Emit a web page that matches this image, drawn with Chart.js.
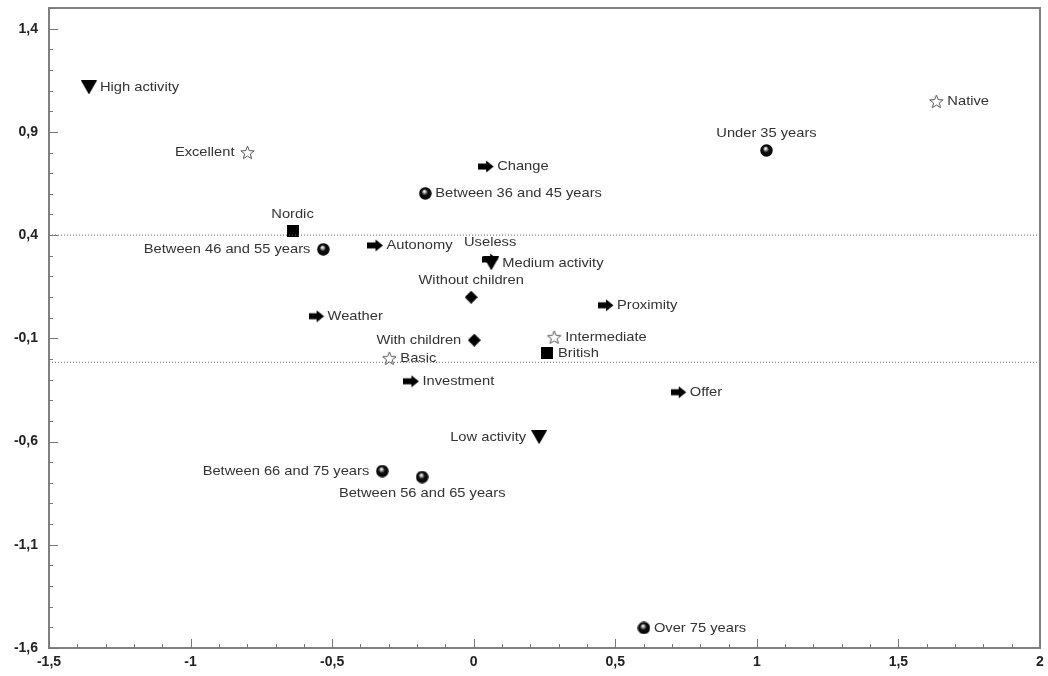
<!DOCTYPE html>
<html>
<head>
<meta charset="utf-8">
<script src="https://cdn.jsdelivr.net/npm/chart.js@4.4.1/dist/chart.umd.min.js"></script>
<style>
  html, body { margin: 0; background: #fff; }
</style>
</head>
<body>
<canvas id="c" width="1048" height="676"></canvas>
<script>
// data
const names = ["High activity", "Excellent", "Native", "Under 35 years", "Change",
  "Between 36 and 45 years", "Nordic", "Between 46 and 55 years", "Autonomy", "Useless",
  "Medium activity", "Without children", "Proximity", "Weather", "With children",
  "Intermediate", "British", "Basic", "Investment", "Offer", "Low activity",
  "Between 66 and 75 years", "Between 56 and 65 years", "Over 75 years"];
const xVals = [-1.359, -0.799, 1.634, 1.034, 0.044, -0.171, -0.640, -0.531, -0.347, 0.058,
  0.062, -0.009, 0.467, -0.555, 0.002, 0.284, 0.259, -0.298, -0.220, 0.724, 0.231,
  -0.323, -0.182, 0.601];
const yVals = [1.115, 0.800, 1.047, 0.810, 0.732, 0.602, 0.418, 0.331, 0.350, 0.282,
  0.263, 0.099, 0.060, 0.007, -0.109, -0.095, -0.172, -0.197, -0.308, -0.361, -0.579,
  -0.743, -0.772, -1.503];
const kinds = ["tri", "star", "star", "ball", "arrow", "ball", "square", "ball", "arrow", "arrow",
  "tri", "diamond", "arrow", "arrow", "diamond", "star", "square", "star", "arrow", "arrow", "tri",
  "ball", "ball", "ball"];
const xTicks = [-1.5, -1, -0.5, 0, 0.5, 1, 1.5, 2];
const yTicks = [-1.6, -1.1, -0.6, -0.1, 0.4, 0.9, 1.4];
const refLines = [0.4, -0.216];

// where each label sits relative to its marker
const labelSide = {
  "Excellent": "left", "Between 46 and 55 years": "left", "With children": "left",
  "Low activity": "left", "Between 66 and 75 years": "left",
  "Under 35 years": "above", "Nordic": "above", "Useless": "above", "Without children": "above",
  "Between 56 and 65 years": "below"
};

function mk(w, h) { const c = document.createElement("canvas"); c.width = w; c.height = h; return c; }

function ballIcon(d) {
  const c = mk(d, d), g = c.getContext("2d");
  const gr = g.createRadialGradient(d * 0.42, d * 0.33, 0.3, d / 2, d / 2, d / 2);
  gr.addColorStop(0, "#fff"); gr.addColorStop(0.22, "#999"); gr.addColorStop(0.45, "#111"); gr.addColorStop(1, "#000");
  g.fillStyle = gr; g.beginPath(); g.arc(d / 2, d / 2, d / 2 - 0.3, 0, Math.PI * 2); g.fill();
  return c;
}
function arrowIcon() {
  const c = mk(16, 13), g = c.getContext("2d");
  g.fillStyle = "#000"; g.beginPath();
  g.moveTo(0, 3.5); g.lineTo(8, 3.5); g.lineTo(8, 0.5); g.lineTo(15.5, 6.5); g.lineTo(8, 12.5); g.lineTo(8, 9.5); g.lineTo(0, 9.5);
  g.closePath(); g.fill();
  return c;
}
function triIcon() {
  const c = mk(16, 14), g = c.getContext("2d");
  g.fillStyle = "#000"; g.beginPath(); g.moveTo(0, 0); g.lineTo(16, 0); g.lineTo(8, 14); g.closePath(); g.fill();
  return c;
}
function squareIcon() {
  const c = mk(12, 12), g = c.getContext("2d");
  g.fillStyle = "#000"; g.fillRect(0, 0, 12, 12);
  return c;
}
function diamondIcon() {
  const c = mk(13, 13), g = c.getContext("2d");
  g.fillStyle = "#000"; g.beginPath(); g.moveTo(6.5, 0); g.lineTo(13, 6.5); g.lineTo(6.5, 13); g.lineTo(0, 6.5); g.closePath(); g.fill();
  return c;
}
function starIcon() {
  const c = mk(15, 15), g = c.getContext("2d");
  g.strokeStyle = "#555"; g.lineWidth = 1; g.fillStyle = "#fff"; g.beginPath();
  for (let i = 0; i < 10; i++) {
    const r = i % 2 ? 3 : 7, a = -Math.PI / 2 + i * Math.PI / 5;
    const px = 7.5 + r * Math.cos(a), py = 8 + r * Math.sin(a);
    i ? g.lineTo(px, py) : g.moveTo(px, py);
  }
  g.closePath(); g.fill(); g.stroke();
  return c;
}
const icons = { ball: ballIcon(13), arrow: arrowIcon(), tri: triIcon(), square: squareIcon(), diamond: diamondIcon(), star: starIcon() };

const fmt = v => String(Math.round(v * 10) / 10).replace(".", ",");

const frameAndTicks = {
  id: "frameAndTicks",
  afterDraw(chart) {
    const { ctx, chartArea: a, scales: { x, y } } = chart;
    ctx.save();
    ctx.strokeStyle = "#808080"; ctx.lineWidth = 2;
    ctx.strokeRect(a.left, a.top, a.right - a.left, a.bottom - a.top);
    ctx.lineWidth = 1; ctx.strokeStyle = "#777";
    ctx.beginPath();
    for (let i = -15; i <= 20; i++) {
      const v = i / 10, px = Math.round(x.getPixelForValue(v)) + 0.5;
      const len = xTicks.some(t => Math.abs(t - v) < 1e-6) ? 9 : 4;
      ctx.moveTo(px, a.bottom); ctx.lineTo(px, a.bottom - len);
    }
    for (let i = -16; i <= 15; i++) {
      const v = i / 10, py = Math.round(y.getPixelForValue(v)) + 0.5;
      const len = yTicks.some(t => Math.abs(t - v) < 1e-6) ? 9 : 4;
      ctx.moveTo(a.left, py); ctx.lineTo(a.left + len, py);
    }
    ctx.stroke();
    ctx.restore();
  }
};

const pointLabels = {
  id: "pointLabels",
  afterDatasetsDraw(chart) {
    const { ctx } = chart;
    const meta = chart.getDatasetMeta(refLines.length);
    ctx.save();
    ctx.font = "13px 'Liberation Sans', Arial, sans-serif";
    ctx.fillStyle = "#333";
    ctx.textBaseline = "middle";
    const sx = 1.13;
    meta.data.forEach((pt, i) => {
      const name = names[i], side = labelSide[name] || "right";
      const w = ctx.measureText(name).width * sx;
      let tx, ty = pt.y;
      if (side === "right") tx = pt.x + (kinds[i] === "ball" ? 10 : 11);
      else if (side === "left") tx = pt.x - 13 - w;
      else if (side === "above") { tx = pt.x - w / 2; ty = pt.y - 17; }
      else { tx = pt.x - w / 2; ty = pt.y + 16; }
      ctx.save();
      ctx.translate(tx, ty); ctx.scale(sx, 1);
      ctx.fillText(name, 0, 0);
      ctx.restore();
    });
    ctx.restore();
  }
};

const refSets = refLines.map(v => ({
  type: "line",
  data: [{ x: -1.5, y: v }, { x: 2, y: v }],
  borderColor: "#666", borderWidth: 1, borderDash: [1, 2],
  pointRadius: 0, fill: false
}));

const tickFont = { family: "'Liberation Sans', Arial", size: 14, weight: "bold" };

new Chart(document.getElementById("c"), {
  type: "scatter",
  data: {
    datasets: [...refSets, {
      data: xVals.map((x, i) => ({ x, y: yVals[i] })),
      pointStyle: ctx => icons[kinds[ctx.dataIndex]],
      pointRadius: 7, pointHoverRadius: 7
    }]
  },
  options: {
    responsive: false, devicePixelRatio: 1, animation: false,
    layout: { padding: { top: 7, right: 6, left: 0, bottom: 0 } },
    plugins: { legend: { display: false }, tooltip: { enabled: false } },
    scales: {
      x: {
        type: "linear", min: -1.5, max: 2,
        afterBuildTicks: s => { s.ticks = xTicks.map(value => ({ value })); },
        afterFit: s => { s.height = 28; s.paddingLeft = 0; s.paddingRight = 0; },
        grid: { display: false, drawTicks: false }, border: { display: false },
        ticks: { callback: fmt, padding: 6, color: "#222", font: tickFont, maxRotation: 0 }
      },
      y: {
        type: "linear", min: -1.6, max: 1.5,
        afterBuildTicks: s => { s.ticks = yTicks.map(value => ({ value })); },
        afterFit: s => { s.width = 49; s.paddingTop = 0; s.paddingBottom = 0; },
        grid: { display: false, drawTicks: false }, border: { display: false },
        ticks: { callback: fmt, padding: 11, color: "#222", font: tickFont }
      }
    }
  },
  plugins: [frameAndTicks, pointLabels]
});
</script>
</body>
</html>
